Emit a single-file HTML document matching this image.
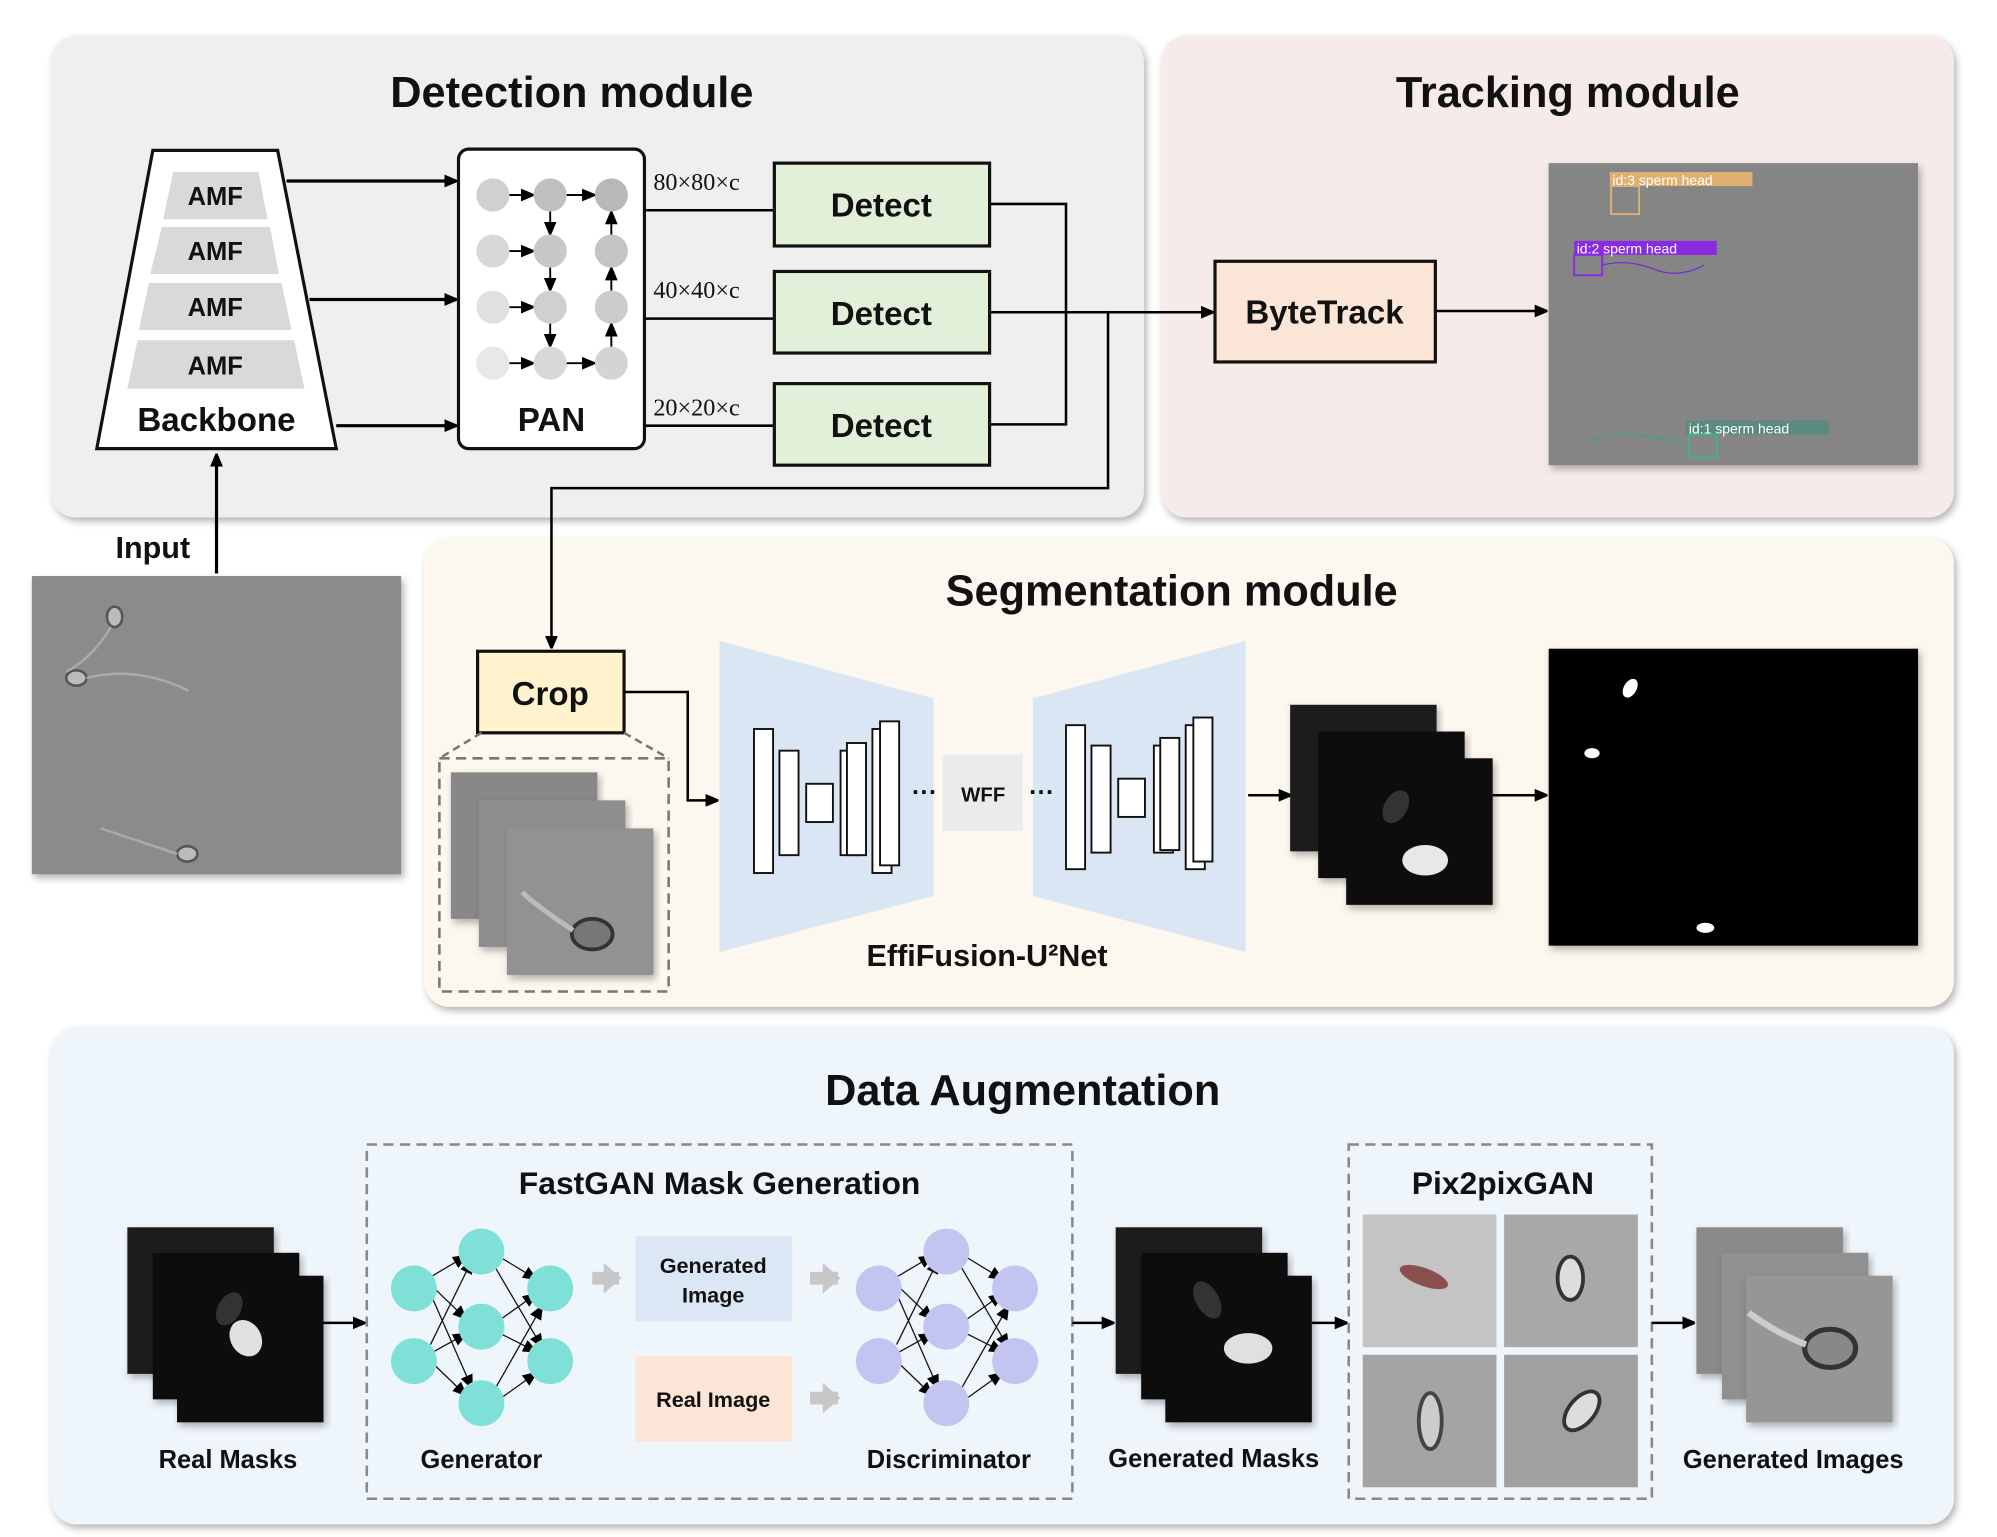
<!DOCTYPE html>
<html><head><meta charset="utf-8"><style>
html,body{margin:0;padding:0;background:#fff;}
svg{display:block;}
text{font-family:"Liberation Sans","DejaVu Sans",sans-serif;}
.t{font-weight:bold;font-size:34px;text-anchor:middle;fill:#111;}
.b{font-weight:bold;text-anchor:middle;fill:#111;}
.s{font-family:"Liberation Serif",serif;font-size:19px;fill:#111;}
</style></head><body>
<svg width="1997" height="1537" viewBox="0 0 1568 1206" preserveAspectRatio="none" xmlns="http://www.w3.org/2000/svg">
<defs>
<marker id="a" markerWidth="10" markerHeight="10" refX="9" refY="5" orient="auto" markerUnits="userSpaceOnUse"><path d="M0,0 L12,5 L0,10 z" fill="#000"/></marker>
<marker id="ag" markerWidth="14" markerHeight="24" refX="12" refY="12" orient="auto" markerUnits="userSpaceOnUse"><path d="M0,0 L14,12 L0,24 z" fill="#c8c8c8"/></marker>
<filter id="sh" x="-5%" y="-5%" width="110%" height="115%"><feDropShadow dx="2" dy="3" stdDeviation="3" flood-color="#000" flood-opacity="0.3"/></filter>
</defs>
<rect x="40" y="28" width="858" height="378" rx="20" fill="#efefef" filter="url(#sh)"/>
<rect x="912" y="28" width="622" height="378" rx="20" fill="#f6ebe8" filter="url(#sh)"/>
<rect x="333" y="422" width="1201" height="368" rx="20" fill="#fcf7ef" filter="url(#sh)"/>
<rect x="40" y="806" width="1494" height="390" rx="20" fill="#eef5fb" filter="url(#sh)"/>
<text class="t" x="449" y="84">Detection module</text>
<text class="t" x="1231" y="84">Tracking module</text>
<text class="t" x="920" y="475">Segmentation module</text>
<text class="t" x="803" y="867">Data Augmentation</text>

<polygon points="120,118 218,118 264,352 76,352" fill="#fff" stroke="#111" stroke-width="2.5"/>
<polygon points="136,135 203,135 210,172 128,172" fill="#d9d9d9"/>
<polygon points="127,178 212,178 219,215 118,215" fill="#d9d9d9"/>
<polygon points="117,222 221,222 229,259 109,259" fill="#d9d9d9"/>
<polygon points="108,267 231,267 239,305 100,305" fill="#d9d9d9"/>
<g class="b" font-size="20"><text x="169" y="161">AMF</text><text x="169" y="204">AMF</text><text x="169" y="248">AMF</text><text x="169" y="294">AMF</text></g>
<text class="b" x="170" y="338" font-size="26">Backbone</text>
<g stroke="#000" stroke-width="2.5" fill="none" marker-end="url(#a)">
<line x1="225" y1="142" x2="358" y2="142"/><line x1="243" y1="235" x2="358" y2="235"/><line x1="264" y1="334" x2="358" y2="334"/>
</g>
<rect x="360" y="117" width="146" height="235" rx="8" fill="#fff" stroke="#111" stroke-width="2.5"/>
<g>
<circle cx="387" cy="153" r="13" fill="#d0d0d0"/><circle cx="432" cy="153" r="13" fill="#c0c0c0"/><circle cx="480" cy="153" r="13" fill="#b8b8b8"/>
<circle cx="387" cy="197" r="13" fill="#d8d8d8"/><circle cx="432" cy="197" r="13" fill="#c8c8c8"/><circle cx="480" cy="197" r="13" fill="#c4c4c4"/>
<circle cx="387" cy="241" r="13" fill="#e0e0e0"/><circle cx="432" cy="241" r="13" fill="#d0d0d0"/><circle cx="480" cy="241" r="13" fill="#cccccc"/>
<circle cx="387" cy="285" r="13" fill="#e8e8e8"/><circle cx="432" cy="285" r="13" fill="#d8d8d8"/><circle cx="480" cy="285" r="13" fill="#d4d4d4"/>
</g>
<g stroke="#000" stroke-width="1.5" marker-end="url(#a)">
<line x1="400" y1="153" x2="418" y2="153"/><line x1="445" y1="153" x2="466" y2="153"/>
<line x1="400" y1="197" x2="418" y2="197"/><line x1="400" y1="241" x2="418" y2="241"/><line x1="400" y1="285" x2="418" y2="285"/>
<line x1="445" y1="285" x2="466" y2="285"/>
<line x1="432" y1="166" x2="432" y2="183"/><line x1="432" y1="210" x2="432" y2="227"/><line x1="432" y1="254" x2="432" y2="271"/>
<line x1="480" y1="272" x2="480" y2="255"/><line x1="480" y1="228" x2="480" y2="211"/><line x1="480" y1="184" x2="480" y2="167"/>
</g>
<text class="b" x="433" y="338" font-size="26">PAN</text>
<text class="s" x="513" y="149">80×80×c</text>
<text class="s" x="513" y="234">40×40×c</text>
<text class="s" x="513" y="326">20×20×c</text>
<g stroke="#000" stroke-width="2" fill="none">
<line x1="506" y1="165" x2="608" y2="165"/><line x1="506" y1="250" x2="608" y2="250"/><line x1="506" y1="334" x2="608" y2="334"/>
<polyline points="777,160 837,160 837,333 777,333"/><line x1="777" y1="245" x2="870" y2="245"/>
<polyline points="870,245 870,383 433,383 433,508" marker-end="url(#a)"/>
<line x1="870" y1="245" x2="952" y2="245" marker-end="url(#a)"/>
<line x1="1127" y1="244" x2="1214" y2="244" marker-end="url(#a)"/>
</g>
<g fill="#e2f0d9" stroke="#111" stroke-width="2.5">
<rect x="608" y="128" width="169" height="65"/><rect x="608" y="213" width="169" height="64"/><rect x="608" y="301" width="169" height="64"/>
</g>
<g class="b" font-size="26"><text x="692" y="170">Detect</text><text x="692" y="255">Detect</text><text x="692" y="343">Detect</text></g>
<rect x="954" y="205" width="173" height="79" fill="#fbe5d6" stroke="#111" stroke-width="2.5"/>
<text class="b" x="1040" y="254" font-size="26">ByteTrack</text>
<rect x="1216" y="128" width="290" height="237" fill="#858585" filter="url(#sh)"/>
<rect x="1264" y="135" width="112" height="11" fill="#e0b070"/><text x="1266" y="145" font-size="11" fill="#fff">id:3  sperm  head</text>
<rect x="1265" y="146" width="22" height="22" fill="none" stroke="#e0b070" stroke-width="1.5"/>
<rect x="1236" y="189" width="112" height="11" fill="#8a2be2"/><text x="1238" y="199" font-size="11" fill="#fff">id:2  sperm  head</text>
<rect x="1236" y="200" width="22" height="16" fill="none" stroke="#8a2be2" stroke-width="1.5"/>
<path d="M1258,208 q20,-5 40,3 t40,-3" stroke="#7030d0" fill="none"/>
<rect x="1324" y="330" width="112" height="11" fill="#5a8a80"/><text x="1326" y="340" font-size="11" fill="#fff">id:1  sperm  head</text>
<rect x="1326" y="341" width="22" height="18" fill="none" stroke="#40b090" stroke-width="1.5"/>
<path d="M1250,345 q30,-10 76,5" stroke="#40a080" fill="none"/>
<text class="b" x="120" y="438" font-size="24">Input</text>
<line x1="170" y1="450" x2="170" y2="357" stroke="#000" stroke-width="2.5" marker-end="url(#a)"/>
<rect x="25" y="452" width="290" height="234" fill="#8b8b8b" filter="url(#sh)"/>
<g fill="#bbb" stroke="#555" stroke-width="2"><ellipse cx="90" cy="484" rx="6" ry="8"/><ellipse cx="60" cy="532" rx="8" ry="6"/><ellipse cx="147" cy="670" rx="8" ry="6"/></g>
<g stroke="#aaa" fill="none" stroke-width="2"><path d="M87,492 q-15,25 -35,35"/><path d="M68,532 q40,-10 80,10"/><path d="M139,670 q-30,-10 -60,-20"/></g>
<rect x="375" y="511" width="115" height="64" fill="#fff2cc" stroke="#111" stroke-width="2.5"/>
<text class="b" x="432" y="553" font-size="26">Crop</text>
<rect x="345" y="595" width="180" height="183" fill="none" stroke="#777" stroke-width="2" stroke-dasharray="8,5"/>
<line x1="378" y1="575" x2="345" y2="595" stroke="#777" stroke-width="2" stroke-dasharray="6,4"/>
<line x1="490" y1="575" x2="525" y2="595" stroke="#777" stroke-width="2" stroke-dasharray="6,4"/>
<rect x="354" y="606" width="115" height="115" fill="#888" filter="url(#sh)"/>
<rect x="376" y="628" width="115" height="115" fill="#8e8e8e" filter="url(#sh)"/>
<rect x="398" y="650" width="115" height="115" fill="#929292" filter="url(#sh)"/>
<ellipse cx="465" cy="733" rx="16" ry="12" fill="#777" stroke="#333" stroke-width="3"/>
<path d="M450,730 q-30,-20 -40,-30" stroke="#bbb" stroke-width="4" fill="none"/>
<polyline points="490,543 540,543 540,628 563,628" stroke="#000" stroke-width="2" fill="none" marker-end="url(#a)"/>
<polygon points="565,503 733,548 733,703 565,747" fill="#dae6f3"/>
<polygon points="811,548 978,503 978,747 811,703" fill="#dae6f3"/>
<g fill="#fff" stroke="#111" stroke-width="1.5">
<rect x="592" y="572" width="15" height="113"/><rect x="612" y="589" width="15" height="82"/><rect x="633" y="615" width="21" height="30"/><rect x="660" y="589" width="15" height="82"/>
<rect x="665" y="583" width="15" height="88"/><rect x="685" y="572" width="15" height="113"/><rect x="691" y="566" width="15" height="113"/>
<rect x="837" y="569" width="15" height="113"/><rect x="857" y="585" width="15" height="84"/><rect x="878" y="611" width="21" height="30"/>
<rect x="906" y="585" width="15" height="84"/><rect x="911" y="579" width="15" height="88"/><rect x="931" y="569" width="15" height="113"/><rect x="937" y="563" width="15" height="113"/>
</g>
<rect x="740" y="592" width="63" height="60" fill="#ebebeb"/>
<text class="b" x="772" y="629" font-size="16">WFF</text>
<text class="b" x="726" y="628" font-size="20">···</text><text class="b" x="818" y="628" font-size="20">···</text>
<text class="b" x="775" y="758" font-size="24">EffiFusion-U²Net</text>
<line x1="980" y1="624" x2="1013" y2="624" stroke="#000" stroke-width="2" marker-end="url(#a)"/>
<rect x="1013" y="553" width="115" height="115" fill="#1a1a1a" filter="url(#sh)"/>
<rect x="1035" y="574" width="115" height="115" fill="#111" filter="url(#sh)"/>
<rect x="1057" y="595" width="115" height="115" fill="#0a0a0a" filter="url(#sh)"/>
<ellipse cx="1096" cy="633" rx="9" ry="14" fill="#333" transform="rotate(30 1096 633)"/>
<ellipse cx="1119" cy="675" rx="18" ry="12" fill="#e8e8e8"/>
<line x1="1172" y1="624" x2="1214" y2="624" stroke="#000" stroke-width="2" marker-end="url(#a)"/>
<rect x="1216" y="509" width="290" height="233" fill="#000" filter="url(#sh)"/>
<ellipse cx="1280" cy="540" rx="5" ry="8" fill="#fff" transform="rotate(30 1280 540)"/>
<ellipse cx="1250" cy="591" rx="6" ry="4" fill="#fff"/><ellipse cx="1339" cy="728" rx="7" ry="4" fill="#fff"/>
<rect x="100" y="963" width="115" height="115" fill="#1a1a1a" filter="url(#sh)"/>
<rect x="120" y="983" width="115" height="115" fill="#111" filter="url(#sh)"/>
<rect x="139" y="1001" width="115" height="115" fill="#0a0a0a" filter="url(#sh)"/>
<ellipse cx="180" cy="1027" rx="9" ry="14" fill="#333" transform="rotate(30 180 1027)"/>
<ellipse cx="193" cy="1050" rx="12" ry="15" fill="#e0e0e0" transform="rotate(-30 193 1050)"/>
<text class="b" x="179" y="1152" font-size="20">Real Masks</text>
<line x1="254" y1="1038" x2="286" y2="1038" stroke="#000" stroke-width="2" marker-end="url(#a)"/>
<rect x="288" y="898" width="554" height="278" fill="none" stroke="#888" stroke-width="2" stroke-dasharray="8,5"/>
<text class="b" x="565" y="937" font-size="25">FastGAN Mask Generation</text>
<g stroke="#111" stroke-width="1" marker-end="url(#a)">
<line x1="338" y1="1002" x2="365" y2="986"/><line x1="338" y1="1008" x2="365" y2="1034"/><line x1="338" y1="1062" x2="365" y2="1047"/><line x1="338" y1="1068" x2="365" y2="1094"/>
<line x1="338" y1="1015" x2="370" y2="1088"/><line x1="338" y1="1055" x2="370" y2="990"/>
<line x1="392" y1="986" x2="420" y2="1003"/><line x1="392" y1="1036" x2="420" y2="1016"/><line x1="392" y1="1046" x2="420" y2="1060"/><line x1="392" y1="1098" x2="420" y2="1078"/>
<line x1="388" y1="993" x2="425" y2="1056"/><line x1="388" y1="1091" x2="425" y2="1026"/>
<line x1="704" y1="1002" x2="731" y2="986"/><line x1="704" y1="1008" x2="731" y2="1034"/><line x1="704" y1="1062" x2="731" y2="1047"/><line x1="704" y1="1068" x2="731" y2="1094"/>
<line x1="704" y1="1015" x2="736" y2="1088"/><line x1="704" y1="1055" x2="736" y2="990"/>
<line x1="758" y1="986" x2="786" y2="1003"/><line x1="758" y1="1036" x2="786" y2="1016"/><line x1="758" y1="1046" x2="786" y2="1060"/><line x1="758" y1="1098" x2="786" y2="1078"/>
<line x1="754" y1="993" x2="791" y2="1056"/><line x1="754" y1="1091" x2="791" y2="1026"/>
</g>
<g fill="#7ee0d6"><circle cx="325" cy="1011" r="18"/><circle cx="325" cy="1068" r="18"/><circle cx="378" cy="982" r="18"/><circle cx="378" cy="1041" r="18"/><circle cx="378" cy="1101" r="18"/><circle cx="432" cy="1011" r="18"/><circle cx="432" cy="1068" r="18"/></g>
<g fill="#c4c4f0"><circle cx="690" cy="1011" r="18"/><circle cx="690" cy="1068" r="18"/><circle cx="743" cy="982" r="18"/><circle cx="743" cy="1041" r="18"/><circle cx="743" cy="1101" r="18"/><circle cx="797" cy="1011" r="18"/><circle cx="797" cy="1068" r="18"/></g>
<text class="b" x="378" y="1152" font-size="20">Generator</text>
<text class="b" x="745" y="1152" font-size="20">Discriminator</text>
<rect x="499" y="970" width="123" height="67" fill="#dbe7f4"/>
<text class="b" x="560" y="999" font-size="17">Generated</text><text class="b" x="560" y="1022" font-size="17">Image</text>
<rect x="499" y="1064" width="123" height="67" fill="#fbe5d6"/>
<text class="b" x="560" y="1104" font-size="17">Real Image</text>
<g stroke="#c8c8c8" stroke-width="10" marker-end="url(#ag)">
<line x1="465" y1="1003" x2="486" y2="1003"/><line x1="636" y1="1003" x2="658" y2="1003"/><line x1="636" y1="1097" x2="658" y2="1097"/>
</g>
<rect x="876" y="963" width="115" height="115" fill="#1a1a1a" filter="url(#sh)"/>
<rect x="896" y="983" width="115" height="115" fill="#111" filter="url(#sh)"/>
<rect x="915" y="1001" width="115" height="115" fill="#0a0a0a" filter="url(#sh)"/>
<ellipse cx="948" cy="1020" rx="9" ry="16" fill="#333" transform="rotate(-30 948 1020)"/>
<ellipse cx="980" cy="1058" rx="19" ry="12" fill="#e0e0e0"/>
<text class="b" x="953" y="1151" font-size="20">Generated Masks</text>
<line x1="842" y1="1038" x2="874" y2="1038" stroke="#000" stroke-width="2" marker-end="url(#a)"/>
<line x1="1030" y1="1038" x2="1057" y2="1038" stroke="#000" stroke-width="2" marker-end="url(#a)"/>
<rect x="1059" y="898" width="238" height="278" fill="none" stroke="#888" stroke-width="2" stroke-dasharray="8,5"/>
<text class="b" x="1180" y="937" font-size="25">Pix2pixGAN</text>
<rect x="1070" y="953" width="105" height="104" fill="#c4c4c4"/>
<rect x="1181" y="953" width="105" height="104" fill="#a8a8a8"/>
<rect x="1070" y="1063" width="105" height="104" fill="#a4a4a4"/>
<rect x="1181" y="1063" width="105" height="104" fill="#a0a0a0"/>
<ellipse cx="1118" cy="1002" rx="20" ry="7" fill="#8a5050" transform="rotate(20 1118 1002)"/>
<ellipse cx="1233" cy="1003" rx="10" ry="17" fill="#ddd" stroke="#333" stroke-width="3"/>
<ellipse cx="1123" cy="1115" rx="9" ry="22" fill="#ccc" stroke="#444" stroke-width="3"/>
<ellipse cx="1242" cy="1107" rx="10" ry="18" fill="#ddd" stroke="#333" stroke-width="3" transform="rotate(40 1242 1107)"/>
<line x1="1297" y1="1038" x2="1330" y2="1038" stroke="#000" stroke-width="2" marker-end="url(#a)"/>
<rect x="1332" y="963" width="115" height="115" fill="#8a8a8a" filter="url(#sh)"/>
<rect x="1352" y="983" width="115" height="115" fill="#909090" filter="url(#sh)"/>
<rect x="1371" y="1001" width="115" height="115" fill="#969696" filter="url(#sh)"/>
<ellipse cx="1437" cy="1058" rx="20" ry="15" fill="#888" stroke="#333" stroke-width="4"/>
<path d="M1418,1055 q-25,-10 -45,-25" stroke="#ccc" stroke-width="5" fill="none"/>
<text class="b" x="1408" y="1152" font-size="20">Generated Images</text>
</svg>
</body></html>
